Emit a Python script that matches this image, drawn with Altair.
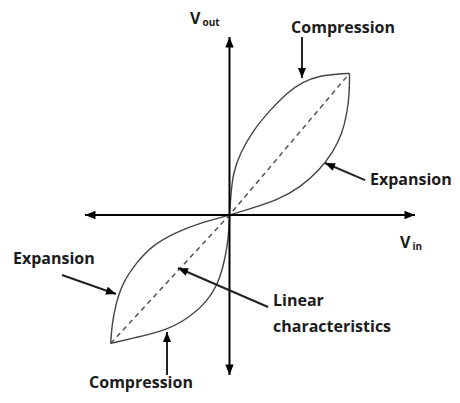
import altair as alt
import pandas as pd
import numpy as np

# Curve points (normalized units, origin at axes crossing)
comp_up_x = [0.0, 0.004, 0.013, 0.03, 0.09, 0.20, 0.34, 0.48, 0.61, 0.75, 0.90, 1.0]
comp_up_y = [0.0, 0.067, 0.18, 0.35, 0.52, 0.71, 0.875, 1.02, 1.11, 1.16, 1.175, 1.18]
exp_up_x = [0.0, 0.20, 0.40, 0.59, 0.75, 0.86, 0.94, 0.98, 1.0, 1.0]
exp_up_y = [0.0, 0.06, 0.125, 0.23, 0.375, 0.52, 0.68, 0.85, 1.02, 1.18]
exp_lo_x = [0.0, -0.245, -0.44, -0.64, -0.77, -0.89, -0.95, -0.98, -0.99]
exp_lo_y = [0.0, -0.067, -0.14, -0.25, -0.39, -0.56, -0.75, -0.92, -1.07]
comp_lo_x = [-0.99, -0.80, -0.52, -0.33, -0.19, -0.10, -0.055, -0.02, 0.0, 0.0]
comp_lo_y = [-1.07, -1.025, -0.96, -0.85, -0.725, -0.58, -0.44, -0.275, -0.08, 0.0]
lin_x = [-0.99, 0.0, 1.0]
lin_y = [-1.07, 0.0, 1.18]

# Axes extents
haxis_x = [-1.204, 1.546]
vaxis_y = [-1.333, 1.483]

# Annotation arrows: start -> tip
arr_x1 = [0.604, 1.13, -1.396, 0.321, -0.521]
arr_y1 = [1.483, 0.29, -0.5, -0.767, -1.333]
arr_x2 = [0.604, 0.796, -0.946, -0.429, -0.521]
arr_y2 = [1.142, 0.433, -0.658, -0.442, -0.975]

# Labels
lab_text = ["Compression", "Expansion", "Expansion", "Linear", "characteristics", "Compression"]
lab_x = [0.946, 1.171, -1.804, 0.3625, 0.3625, -0.7375]
lab_y = [1.558, 0.292, -0.367, -0.717, -0.933, -1.40]
lab_align = ["center", "left", "left", "left", "left", "center"]

W, H = 444, 387
XD = [-1.8458, 1.8542]
YD = [-1.5, 1.725]
xs = alt.Scale(domain=XD, nice=False, zero=False)
ys = alt.Scale(domain=YD, nice=False, zero=False)
X = lambda f="x": alt.X(f"{f}:Q", scale=xs, axis=None)
Y = lambda f="y": alt.Y(f"{f}:Q", scale=ys, axis=None)

def curve(xv, yv, name):
    return pd.DataFrame({"x": xv, "y": yv, "o": range(len(xv)), "s": name})

curves = pd.concat([
    curve(comp_up_x, comp_up_y, "cu"),
    curve(exp_up_x, exp_up_y, "eu"),
    curve(exp_lo_x, exp_lo_y, "el"),
    curve(comp_lo_x, comp_lo_y, "cl"),
])
curve_layer = alt.Chart(curves).mark_line(color="#444444", strokeWidth=1.4, interpolate="basis").encode(
    x=X(), y=Y(), order="o:Q", detail="s:N")

lin_df = pd.DataFrame({"x": lin_x, "y": lin_y})
lin_layer = alt.Chart(lin_df).mark_line(color="#555555", strokeWidth=1.5, strokeDash=[5, 4]).encode(x=X(), y=Y())

axes_df = pd.DataFrame({
    "x": [haxis_x[0], 0.0], "y": [0.0, vaxis_y[0]],
    "x2": [haxis_x[1], 0.0], "y2": [0.0, vaxis_y[1]],
})
axes_layer = alt.Chart(axes_df).mark_rule(color="black", strokeWidth=2).encode(
    x=X(), y=Y(), x2="x2:Q", y2="y2:Q")

arrow_path = "M0,0L-2,-0.8L-2,0.8Z"
heads = pd.DataFrame({
    "x": [haxis_x[1], haxis_x[0], 0.0, 0.0],
    "y": [0.0, 0.0, vaxis_y[1], vaxis_y[0]],
    "a": [0, 180, 270, 90],
})
axis_heads = alt.Chart(heads).mark_point(shape=arrow_path, filled=True, color="black", size=110, opacity=1).encode(
    x=X(), y=Y(), angle=alt.Angle("a:Q", scale=None))

arr_df = pd.DataFrame({"x": arr_x1, "y": arr_y1, "x2": arr_x2, "y2": arr_y2})
arr_df["a"] = (np.degrees(np.arctan2(-(arr_df.y2 - arr_df.y), arr_df.x2 - arr_df.x)) + 360) % 360
arr_lines = alt.Chart(arr_df).mark_rule(color="#222222", strokeWidth=2).encode(
    x=X(), y=Y(), x2="x2:Q", y2="y2:Q")
arr_heads = alt.Chart(arr_df).mark_point(shape=arrow_path, filled=True, color="black", size=100, opacity=1).encode(
    x=X("x2"), y=Y("y2"), angle=alt.Angle("a:Q", scale=None))

lab_df = pd.DataFrame({"t": lab_text, "x": lab_x, "y": lab_y, "al": lab_align})
font = "Open Sans"
labels = []
for al in ["left", "center"]:
    labels.append(alt.Chart(lab_df[lab_df.al == al]).mark_text(
        align=al, baseline="middle", font=font, fontWeight="bold", fontSize=16, color="#1c1c1c").encode(
        x=X(), y=Y(), text="t:N"))

v_df = pd.DataFrame({"t": ["V", "V"], "x": [-0.329, 1.421], "y": [1.633, -0.233]})
sub_df = pd.DataFrame({"t": ["out", "in"], "x": [-0.225, 1.525], "y": [1.60, -0.27]})
v_layer = alt.Chart(v_df).mark_text(align="left", baseline="middle", font=font, fontWeight="bold",
                                    fontSize=16, color="#1c1c1c").encode(x=X(), y=Y(), text="t:N")
sub_layer = alt.Chart(sub_df).mark_text(align="left", baseline="middle", font=font, fontWeight="bold",
                                        fontSize=10, color="#1c1c1c").encode(x=X(), y=Y(), text="t:N")

chart = alt.layer(lin_layer, curve_layer, axes_layer, axis_heads, arr_lines, arr_heads,
                  *labels, v_layer, sub_layer).properties(
    width=W, height=H, autosize=alt.AutoSizeParams(type="none"), padding=0,
    background="white",
).configure_view(stroke=None)

chart.save("out.html", embed_options={"renderer": "svg", "actions": False})
